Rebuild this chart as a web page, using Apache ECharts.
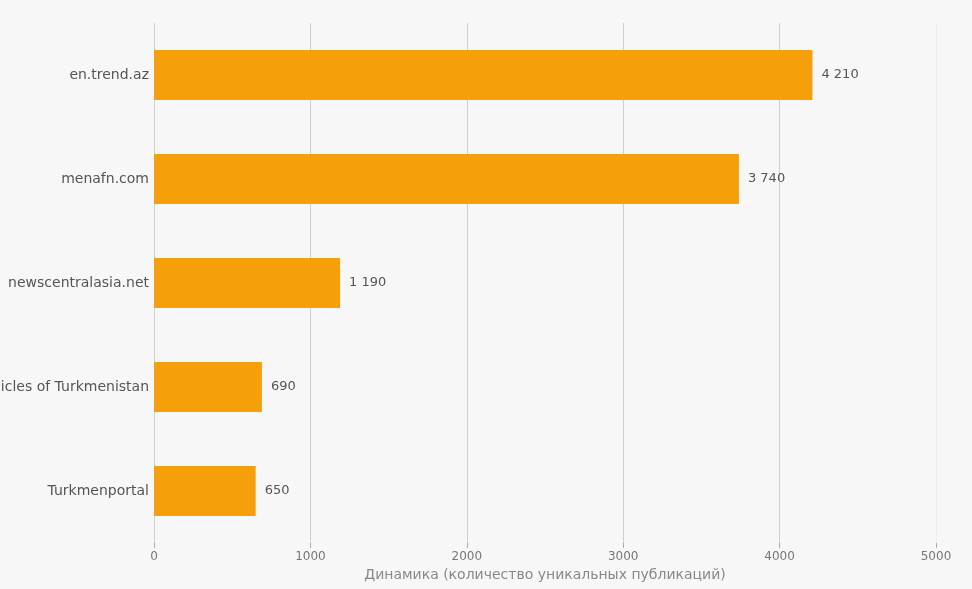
<!DOCTYPE html>
<html lang="ru">
<head>
    <meta charset="UTF-8">
    <title>Динамика</title>
    <script src="https://cdn.jsdelivr.net/npm/echarts@6/dist/echarts.min.js"></script>
</head>
<style>
    html,body{
        margin: 0;
        padding: 0;
        background-color: #f7f7f7;
    }
    #chart{
        width: 972px;
        height: 589px;
    }
</style>
<body>
    <div id="chart"></div>
    <script>
        var sources=['en.trend.az','menafn.com','newscentralasia.net','Chronicles of Turkmenistan','Turkmenportal'];
        var counts=[4210,3740,1190,690,650];
        var xTicks=[0,1000,2000,3000,4000,5000];
        var axisTitle='Динамика (количество уникальных публикаций)';

        // "4210" -> "4 210"
        function spaced(v){
            return String(v).replace(/\B(?=(\d{3})+(?!\d))/g,' ');
        }

        var chart=echarts.init(document.getElementById('chart'));
        chart.setOption({
            backgroundColor:'#f7f7f7',
            textStyle:{fontFamily:'DejaVu Sans'},
            grid:{left:154,right:36,top:23,bottom:46,containLabel:false,outerBoundsMode:'none'},
            xAxis:{
                type:'value',
                min:xTicks[0],
                max:xTicks[xTicks.length-1],
                interval:1000,
                name:axisTitle,
                nameLocation:'middle',
                nameGap:24,
                nameTextStyle:{color:'#888',fontSize:14},
                axisLine:{show:false},
                axisTick:{show:true,length:5,lineStyle:{color:'#aaa'}},
                axisLabel:{color:'#777',fontSize:12,margin:8,formatter:function(v){return String(v);}},
                splitLine:{lineStyle:{color:['#d0d0d0','#d0d0d0','#d0d0d0','#d0d0d0','#d0d0d0','#efefef']}}
            },
            yAxis:{
                type:'category',
                data:sources,
                inverse:true,
                axisLine:{show:false},
                axisTick:{show:false},
                axisLabel:{color:'#555',fontSize:14,margin:5}
            },
            series:[{
                type:'bar',
                data:counts,
                barWidth:50,
                itemStyle:{color:'#f5a00b'},
                label:{
                    show:true,
                    position:'right',
                    distance:9,
                    color:'#555',
                    fontSize:13,
                    formatter:function(p){return spaced(p.value);}
                }
            }]
        });
    </script>
</body>
</html>
